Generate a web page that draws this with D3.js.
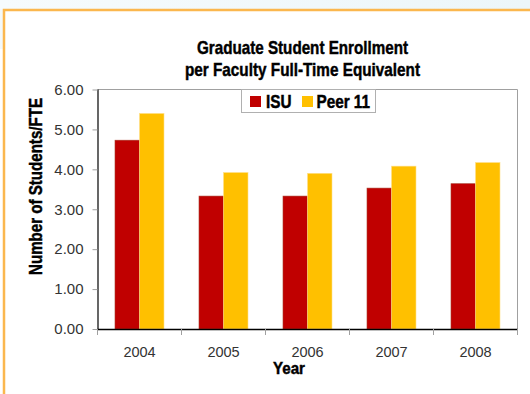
<!DOCTYPE html>
<html><head><meta charset="utf-8">
<script src="https://cdn.jsdelivr.net/npm/d3@7"></script>
<style>
html,body{margin:0;padding:0;background:#fff;}
svg{display:block;}
</style></head>
<body>
<script>
const categories = ["2004","2005","2006","2007","2008"];
const seriesNames = ["ISU","Peer 11"];
const isuValues = [4.73, 3.33, 3.33, 3.53, 3.64];
const peerValues = [5.40, 3.92, 3.90, 4.08, 4.17];
const yTicks = [0,1,2,3,4,5,6];
const colors = ["#c00000", "#ffc000"];

(function(){
const W = 530, H = 394;
const boldFont = "'Liberation Sans',Arial,sans-serif";
const svg = d3.select("body").append("svg").attr("width", W).attr("height", H);

function condText(sel, len){
  return sel.attr("font-family",boldFont).attr("font-weight","bold").attr("fill","#000")
    .attr("stroke","#000").attr("stroke-width",0.45)
    .attr("textLength",len).attr("lengthAdjust","spacingAndGlyphs");
}

// background frame
const grad = svg.append("defs").append("linearGradient").attr("id","bg").attr("x1",0).attr("x2",1);
grad.append("stop").attr("offset",0).attr("stop-color","#f6fbfd");
grad.append("stop").attr("offset",1).attr("stop-color","#ecf6f9");
svg.append("rect").attr("x",0).attr("y",0).attr("width",W).attr("height",9).attr("fill","url(#bg)");
svg.append("rect").attr("x",0).attr("y",9).attr("width",3).attr("height",40).attr("fill","#f3f9fb");
svg.append("path").attr("d",`M4,${H} V10 H${W}`).attr("fill","none").attr("stroke","#fbb74e").attr("stroke-width",2.5);

const pL = 97.5, pR = 517.5, pT = 89.5, pB = 329;
const x = d3.scaleBand().domain(categories).range([pL, pR]);
const y = d3.scaleLinear().domain([0,6]).range([pB, pT]);

// plot area border
svg.append("path").attr("d",`M${pL},${pT} H${pR} V${pB+6}`).attr("fill","none").attr("stroke","#a0a0a0").attr("stroke-width",1);

// bars
const data = [isuValues, peerValues];
const barW = 24.5;
const groupOffset = (x.bandwidth() - 2*barW)/2;
data.forEach((vals, si) => {
  svg.append("g").selectAll("rect").data(vals).join("rect")
    .attr("x", (d,i) => x(categories[i]) + groupOffset + si*barW)
    .attr("y", d => y(d))
    .attr("width", barW)
    .attr("height", d => y(0) - y(d))
    .attr("fill", colors[si])
    .attr("stroke", si===0 ? "#a83a2a" : "#ffe08a")
    .attr("stroke-width", 0.6);
});

// y axis
const yAxis = svg.append("g").attr("transform",`translate(${pL},0)`)
  .call(d3.axisLeft(y).tickValues(yTicks).tickFormat(d3.format(".2f")).tickSize(5).tickPadding(9));
yAxis.select(".domain").attr("stroke","#000").attr("stroke-width",1.2).attr("d",`M0.5,${pT}V${pB}`);
yAxis.selectAll(".tick line").attr("stroke","#a0a0a0");
yAxis.selectAll("text").attr("font-family","'Liberation Sans',Arial,sans-serif").attr("font-size",15).attr("fill","#333");

// x axis
const xAxis = svg.append("g").attr("transform",`translate(0,${pB})`)
  .call(d3.axisBottom(x).tickSize(0).tickPadding(17.5));
xAxis.select(".domain").attr("stroke","#000").attr("stroke-width",1.5).attr("d",`M${pL},0.5H${pR}`);
xAxis.selectAll("text").attr("font-family","'Liberation Sans',Arial,sans-serif").attr("font-size",14.5).attr("fill","#333");
// category boundary ticks
const bounds = categories.map(c => x(c)).concat([pR]);
svg.append("g").selectAll("line").data(bounds).join("line")
  .attr("x1", d=>d).attr("x2", d=>d).attr("y1", pB).attr("y2", pB+6)
  .attr("stroke","#a0a0a0");

// titles
condText(svg.append("text").attr("x",302.5).attr("y",54).attr("text-anchor","middle").attr("font-size",18.5), 211)
  .text("Graduate Student Enrollment");
condText(svg.append("text").attr("x",302.5).attr("y",76).attr("text-anchor","middle").attr("font-size",18.5), 235)
  .text("per Faculty Full-Time Equivalent");

condText(svg.append("text").attr("transform","translate(41.5,186.5) rotate(-90)").attr("text-anchor","middle")
  .attr("font-size",18), 177).text("Number of Students/FTE");

condText(svg.append("text").attr("x",289).attr("y",374).attr("text-anchor","middle").attr("font-size",17), 32)
  .text("Year");

// legend
const lg = svg.append("g");
lg.append("rect").attr("x",241.5).attr("y",89.5).attr("width",134).attr("height",23)
  .attr("fill","#fff").attr("stroke","#b0b0b0");
const legendItems = [
  {name:seriesNames[0], c:colors[0], sx:250, tx:266, len:25.5},
  {name:seriesNames[1], c:colors[1], sx:302, tx:316.5, len:53.5}];
legendItems.forEach(it => {
  lg.append("rect").attr("x",it.sx).attr("y",96).attr("width",11).attr("height",11).attr("fill",it.c);
  condText(lg.append("text").attr("x",it.tx).attr("y",107.5).attr("font-size",17.5), it.len).text(it.name);
});
})();
</script>
</body></html>
